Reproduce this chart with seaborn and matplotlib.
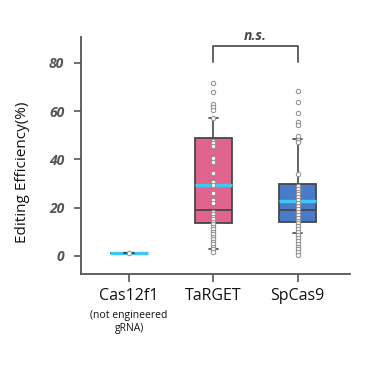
import numpy as np
import pandas as pd
import matplotlib
matplotlib.use('Agg')
import matplotlib.pyplot as plt
import matplotlib.transforms as mtransforms
import seaborn as sns

# categories
groups = ['Cas12f1', 'TaRGET', 'SpCas9']

# individual points (%)
cas12f1_vals = [0.95]
target_vals = [71.6, 67.9, 63.1, 61.7, 60.3, 57.3,
               47.5, 46.7, 45.5, 40.4, 39.0, 34.2, 30.7, 29.3, 25.9, 23.1, 21.7,
               18.3, 17.2, 16.2, 15.1, 14.1, 13.0, 12.0, 11.0, 10.0, 9.0,
               7.9, 6.9, 5.9, 4.8, 3.8, 2.7, 1.7]
spcas9_vals = [68.2, 63.8, 59.2, 55.5, 54.4, 49.6, 48.2, 47.2, 33.9,
               29.0, 27.8, 26.6, 25.4, 24.2, 23.0, 21.8, 20.6, 19.4, 18.2,
               17.0, 15.8, 14.6, 13.4, 12.2, 11.0, 9.8, 8.6, 7.4, 6.2,
               5.0, 3.8, 2.6, 1.5, 0.4]

# box summary as drawn in the picture
q1 = [0.95, 13.4, 13.8]
medians = [0.95, 18.9, 18.9]
q3 = [0.95, 48.9, 29.8]
whis_lo = [0.95, 2.7, 9.6]
whis_hi = [0.95, 57.3, 48.6]
means = [0.95, 29.3, 22.7]

box_colors = ['#E0648F', '#E0648F', '#4A7BCB']
mean_color = '#3FC8F2'
edge_color = '#474747'

df = pd.concat([
    pd.DataFrame({'group': 'Cas12f1', 'value': cas12f1_vals}),
    pd.DataFrame({'group': 'TaRGET', 'value': target_vals}),
    pd.DataFrame({'group': 'SpCas9', 'value': spcas9_vals}),
], ignore_index=True)

sns.set_style('ticks')
plt.rcParams['font.family'] = ['Open Sans', 'DejaVu Sans']

fig = plt.figure(figsize=(3.68, 3.65), dpi=100)
ax = fig.add_axes([0.220, 0.2485, 0.731, 0.650])

# points
sns.stripplot(data=df, x='group', y='value', order=groups, jitter=False,
              color='white', edgecolor='#8C8C8C', linewidth=0.7, size=3.2,
              ax=ax, zorder=4)

# boxes
stats = []
for i, g in enumerate(groups):
    stats.append({'label': g, 'q1': q1[i], 'med': medians[i], 'q3': q3[i],
                  'whislo': whis_lo[i], 'whishi': whis_hi[i], 'mean': means[i],
                  'fliers': []})
bp = ax.bxp(stats, positions=range(len(groups)), widths=0.44, capwidths=0.11,
            patch_artist=True, showmeans=True, meanline=True, showfliers=False,
            manage_ticks=False,
            boxprops=dict(edgecolor=edge_color, linewidth=1.3, zorder=2),
            medianprops=dict(color=edge_color, linewidth=1.3, zorder=2.2),
            whiskerprops=dict(color=edge_color, linewidth=1.2, zorder=2),
            capprops=dict(color=edge_color, linewidth=1.2, zorder=3),
            meanprops=dict(color=mean_color, linewidth=2.4, linestyle='-', zorder=2.5))
for patch, c in zip(bp['boxes'], box_colors):
    patch.set_facecolor(c)

ax.set_xlim(-0.57, 2.62)
ax.set_ylim(-7.7, 90.7)
ax.set_yticks([0, 20, 40, 60, 80])
ax.set_xticks(range(len(groups)))
ax.set_xticklabels(groups, fontsize=11.5, color='#111111')
ax.set_xlabel('')
ax.set_ylabel('Editing Efficiency(%)', fontsize=11, color='#111111')
ax.yaxis.set_label_coords(-0.19, 0.43)

for lab in ax.get_yticklabels():
    lab.set_fontweight('bold')
    lab.set_fontstyle('italic')
    lab.set_color('#555555')
    lab.set_fontsize(10)

ax.tick_params(axis='y', length=5, width=1.2, color='#555555', pad=7)
ax.tick_params(axis='x', length=6, width=1.2, color='#555555', pad=4)
sns.despine(ax=ax)
for s in ['left', 'bottom']:
    ax.spines[s].set_color('#555555')
    ax.spines[s].set_linewidth(1.3)

# sub-label under Cas12f1
trans = mtransforms.blended_transform_factory(ax.transData, ax.transAxes)
ax.text(0, -0.2, '(not engineered\ngRNA)', transform=trans, ha='center',
        va='center', fontsize=7.5, linespacing=1.3, color='#111111')

# significance bracket
ax.plot([1, 1, 2, 2], [80.5, 87, 87, 80.5], color='#555555', lw=1.3,
        clip_on=False, zorder=5)
ax.text(1.5, 88.3, 'n.s.', ha='center', va='bottom', fontsize=10,
        fontweight='bold', fontstyle='italic', color='#444444')

fig.savefig('out.png', dpi=100)
